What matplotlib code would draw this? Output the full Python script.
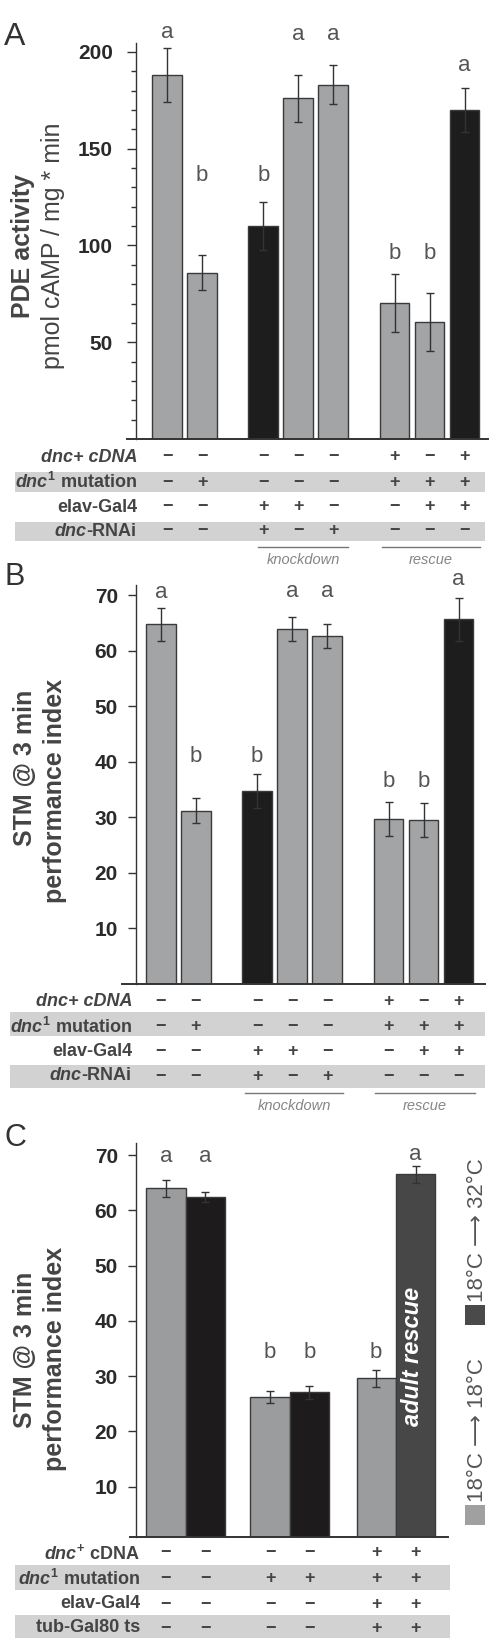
import matplotlib
matplotlib.use('Agg')
import matplotlib.pyplot as plt
from matplotlib.patches import Rectangle
from matplotlib.lines import Line2D
import matplotlib.transforms as mtransforms
import numpy as np

plt.rcParams['font.family'] = ['Liberation Sans', 'DejaVu Sans']
plt.rcParams['mathtext.fontset'] = 'custom'
plt.rcParams['mathtext.it'] = 'Liberation Sans:style=italic:weight=bold'
plt.rcParams['mathtext.rm'] = 'Liberation Sans:weight=bold'
plt.rcParams['mathtext.bf'] = 'Liberation Sans:weight=bold'

# ---------------- data ----------------
AB_pos = [0, 1, 2.75, 3.75, 4.75, 6.5, 7.5, 8.5]
AB_black = [False, False, True, False, False, False, False, True]

A_values = [188, 86, 110, 176, 183, 70.5, 60.5, 170]
A_err = [14, 9, 12.5, 12, 10, 15, 15, 11.5]
A_letters = ['a', 'b', 'b', 'a', 'a', 'b', 'b', 'a']
A_letter_y = [210, 136, 136, 209, 209, 96, 96, 193]

B_values = [64.7, 31.2, 34.7, 63.9, 62.6, 29.7, 29.5, 65.6]
B_err = [3.0, 2.3, 3.0, 2.2, 2.2, 3.1, 3.0, 3.9]
B_letters = ['a', 'b', 'b', 'a', 'a', 'b', 'b', 'a']
B_letter_y = [70.4, 41, 41, 70.7, 70.7, 36.5, 36.5, 72.7]

AB_rows = [r'dnc+ cDNA', r'$\mathit{dnc}^{1}$ mutation', 'elav-Gal4', r'$\mathit{dnc}$-RNAi']
AB_table = [
    ['-', '-', '-', '-', '-', '+', '-', '+'],
    ['-', '+', '-', '-', '-', '+', '+', '+'],
    ['-', '-', '+', '+', '-', '-', '+', '+'],
    ['-', '-', '+', '-', '+', '-', '-', '-'],
]

C_pos = [0, 1, 2.65, 3.65, 5.35, 6.35]
C_values = [64.0, 62.4, 26.3, 27.1, 29.6, 66.5]
C_err = [1.5, 0.9, 1.1, 1.2, 1.5, 1.5]
C_kind = ['g', 'k', 'g', 'k', 'g', 'd']
C_letters = ['a', 'a', 'b', 'b', 'b', 'a']
C_letter_y = [69.8, 69.8, 34.2, 34.2, 34.2, 70.1]
C_rows = [r'$\mathit{dnc}^{+}$ cDNA', r'$\mathit{dnc}^{1}$ mutation', 'elav-Gal4', 'tub-Gal80 ts']
C_table = [
    ['-', '-', '-', '-', '+', '+'],
    ['-', '-', '+', '+', '+', '+'],
    ['-', '-', '-', '-', '+', '+'],
    ['-', '-', '-', '-', '+', '+'],
]
C_legend = ['18°C \u27f6 18°C', '18°C \u27f6 32°C']

# ---------------- style ----------------
W, H = 490, 1643
fig = plt.figure(figsize=(W / 100, H / 100), dpi=100)

GRAY = '#a3a4a6'
BLACK = '#1d1d1d'
DARK = '#474747'
EDGE = '#3a3a3a'
TXT = '#444444'
TICK = '#2a2a2a'
BAND = '#d2d2d2'
SIGN = {'-': '\u2212', '+': '+'}


def fy(ypx):
    return 1 - ypx / H


def px_axes(l, t, r, b):
    return fig.add_axes([l / W, 1 - b / H, (r - l) / W, (b - t) / H])


def style_axes(ax, spine_x, pad, ticklen):
    for s in ['top', 'right']:
        ax.spines[s].set_visible(False)
    ax.spines['left'].set_position(('data', spine_x))
    ax.spines['left'].set_color('#333333')
    ax.spines['left'].set_linewidth(1.0)
    ax.spines['bottom'].set_color('#333333')
    ax.spines['bottom'].set_linewidth(1.4)
    ax.set_xticks([])
    ax.tick_params(axis='y', which='major', direction='out', length=ticklen, width=1.0,
                   color='#333333', pad=pad, labelsize=15, labelcolor=TICK)
    for lab in ax.get_yticklabels():
        lab.set_fontweight('bold')
    ax.patch.set_alpha(0)


def band(x0, x1, yc, h):
    fig.add_artist(Rectangle((x0 / W, fy(yc + h / 2)), (x1 - x0) / W, h / H,
                             transform=fig.transFigure, facecolor=BAND, edgecolor='none', zorder=0))


def table(ax, pos, rows, cells, row_y, label_x):
    trans = mtransforms.blended_transform_factory(ax.transData, fig.transFigure)
    for i, (name, y) in enumerate(zip(rows, row_y)):
        style = 'italic' if name == 'dnc+ cDNA' else 'normal'
        fig.text(label_x / W, fy(y), name, ha='right', va='center', fontsize=13,
                 fontweight='bold', fontstyle=style, color=TXT)
        for x, s in zip(pos, cells[i]):
            ax.text(x, fy(y), SIGN[s], transform=trans, ha='center', va='center',
                    fontsize=13, fontweight='bold', color=TXT, clip_on=False)


def bracket(ax, x0, x1, ypx, label):
    trans = mtransforms.blended_transform_factory(ax.transData, fig.transFigure)
    ax.add_line(Line2D([x0, x1], [fy(ypx), fy(ypx)], transform=trans, color='#777777',
                       lw=1.0, clip_on=False))
    ax.text((x0 + x1) / 2, fy(ypx + 13), label, transform=trans, ha='center', va='center',
            fontsize=10.5, fontstyle='italic', color='#858585', clip_on=False)


err_kw = dict(ecolor='#333333', elinewidth=1.0, capsize=3, capthick=1.0)

# ---------------- panel A ----------------
axA = px_axes(127, 43, 488, 439)
colsA = [BLACK if b else GRAY for b in AB_black]
axA.bar(AB_pos, A_values, width=0.85, color=colsA, edgecolor=EDGE, linewidth=1.0,
        yerr=A_err, error_kw=err_kw, zorder=2)
axA.set_xlim(-1.143, 9.171)
axA.set_ylim(0, 204.6)
axA.set_yticks([50, 100, 150, 200])
axA.set_yticks(np.arange(10, 201, 10), minor=True)
style_axes(axA, -0.886, 10, 6.5)
axA.tick_params(axis='y', which='minor', direction='out', length=3.6, width=1.0, color='#333333')
for x, l, y in zip(AB_pos, A_letters, A_letter_y):
    axA.text(x, y, l, ha='center', va='center', fontsize=16, color='#555555', clip_on=False)
fig.text(23 / W, fy(246), 'PDE activity', rotation=90, ha='center', va='center',
         fontsize=18, fontweight='bold', color=TXT)
fig.text(53 / W, fy(246), 'pmol cAMP / mg * min', rotation=90, ha='center', va='center',
         fontsize=18, color=TXT)
fig.text(15 / W, fy(37), 'A', ha='center', va='center', fontsize=23, color='#333333')

band(15, 485, 482, 20)
band(15, 485, 531, 19)
table(axA, AB_pos, AB_rows, AB_table, [457, 482, 507, 531], 137)
bracket(axA, 2.6, 5.17, 547, 'knockdown')
bracket(axA, 6.14, 8.94, 547, 'rescue')

# ---------------- panel B ----------------
axB = px_axes(122, 585, 485, 984)
axB.bar(AB_pos, B_values, width=0.85, color=colsA, edgecolor=EDGE, linewidth=1.0,
        yerr=B_err, error_kw=err_kw, zorder=2)
axB.set_xlim(-1.114, 9.257)
axB.set_ylim(0, 71.8)
axB.set_yticks(np.arange(10, 71, 10))
style_axes(axB, -0.714, 7, 6)
for x, l, y in zip(AB_pos, B_letters, B_letter_y):
    axB.text(x, y, l, ha='center', va='center', fontsize=16, color='#555555', clip_on=False)
fig.text(25 / W, fy(768), 'STM @ 3 min', rotation=90, ha='center', va='center',
         fontsize=18, fontweight='bold', color=TXT)
fig.text(55 / W, fy(791), 'performance index', rotation=90, ha='center', va='center',
         fontsize=18, fontweight='bold', color=TXT)
fig.text(15 / W, fy(577), 'B', ha='center', va='center', fontsize=22, color='#333333')

band(10, 485, 1024, 24)
band(10, 485, 1076.5, 23)
table(axB, AB_pos, AB_rows, AB_table, [1001.7, 1026.7, 1051.7, 1076], 132)
bracket(axB, 2.4, 5.2, 1093, 'knockdown')
bracket(axB, 6.11, 8.97, 1093, 'rescue')

# ---------------- panel C ----------------
axC = px_axes(130, 1143, 448, 1537)
cmap = {'g': '#9b9c9e', 'k': '#1e1b1c', 'd': DARK}
axC.bar(C_pos, C_values, width=1.0, color=[cmap[k] for k in C_kind], edgecolor=EDGE,
        linewidth=1.0, yerr=C_err, error_kw=err_kw, zorder=2)
axC.set_xlim(-0.916, 7.176)
axC.set_ylim(0.9, 72.2)
axC.set_yticks(np.arange(10, 71, 10))
style_axes(axC, -0.763, 7, 6)
for x, l, y in zip(C_pos, C_letters, C_letter_y):
    axC.text(x, y, l, ha='center', va='center', fontsize=16, color='#555555', clip_on=False)
axC.text(C_pos[5] - 0.08, 33.5, 'adult rescue', rotation=90, ha='center', va='center',
         fontsize=17, fontweight='bold', fontstyle='italic', color='white', zorder=5)
fig.text(25 / W, fy(1350), 'STM @ 3 min', rotation=90, ha='center', va='center',
         fontsize=18, fontweight='bold', color=TXT)
fig.text(55 / W, fy(1359), 'performance index', rotation=90, ha='center', va='center',
         fontsize=18, fontweight='bold', color=TXT)
fig.text(15 / W, fy(1138), 'C', ha='center', va='center', fontsize=22, color='#333333')

# legend
for (sq_y, col, lab) in [(1515, '#a0a0a0', C_legend[0]),
                         (1315, '#4a4a4a', C_legend[1])]:
    fig.add_artist(Rectangle((465 / W, fy(sq_y + 10)), 20 / W, 20 / H, transform=fig.transFigure,
                             facecolor=col, edgecolor='none'))
    fig.text(477 / W, fy(sq_y - 13), lab, rotation=90, rotation_mode='anchor',
             ha='left', va='center', fontsize=16, color='#555555')

band(15, 450, 1577.5, 25)
band(15, 450, 1626.5, 23)
table(axC, C_pos, C_rows, C_table, [1553, 1579, 1604, 1628], 140)

fig.savefig('out.png', dpi=100)
